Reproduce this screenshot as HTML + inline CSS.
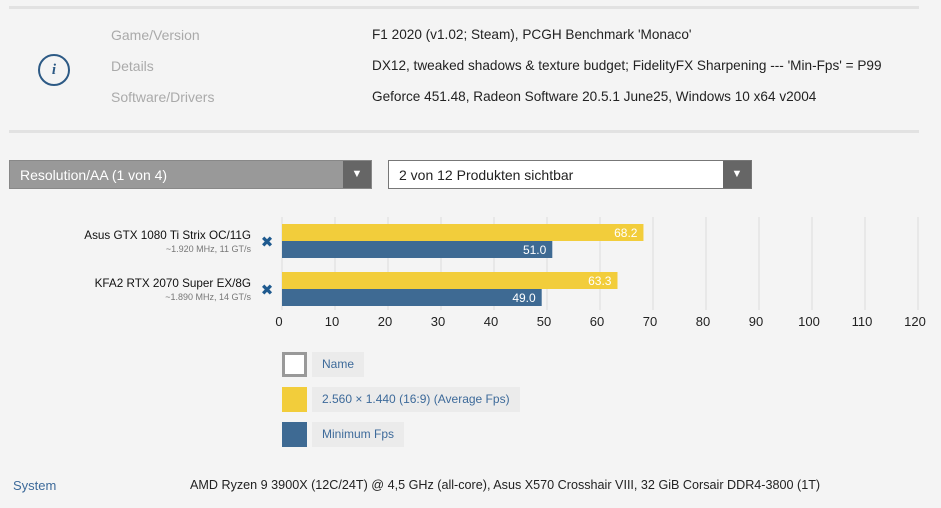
<!DOCTYPE html>
<html><head><meta charset="utf-8">
<style>
body{margin:0;width:941px;height:508px;background:#f4f4f4;font-family:"Liberation Sans",sans-serif;position:relative;overflow:hidden}
.a{position:absolute;white-space:nowrap}
.lbl{color:#aaa;font-size:14px}
.val{color:#222;font-size:13.6px}
</style></head><body>
<div class="a" style="left:9px;top:6px;width:910px;height:3px;background:#e2e2e2"></div>
<div class="a" style="left:38px;top:54px;width:28px;height:28px;border:2px solid #2d5a85;border-radius:50%;color:#2d5a85;font:italic bold 15px 'Liberation Serif',serif;text-align:center;line-height:28px">i</div>
<div class="a lbl" style="left:111px;top:27px">Game/Version</div>
<div class="a lbl" style="left:111px;top:58px">Details</div>
<div class="a lbl" style="left:111px;top:89px">Software/Drivers</div>
<div class="a val" style="left:372px;top:27px">F1 2020 (v1.02; Steam), PCGH Benchmark 'Monaco'</div>
<div class="a val" style="left:372px;top:58px">DX12, tweaked shadows &amp; texture budget; FidelityFX Sharpening --- 'Min-Fps' = P99</div>
<div class="a val" style="left:372px;top:89px">Geforce 451.48, Radeon Software 20.5.1 June25, Windows 10 x64 v2004</div>
<div class="a" style="left:9px;top:130px;width:910px;height:3px;background:#e2e2e2"></div>
<div class="a" style="left:9px;top:160px;width:363px;height:29px;background:#999;border:1px solid #888;box-sizing:border-box">
 <span class="a" style="left:10px;top:6px;color:#fff;font-size:14px">Resolution/AA (1 von 4)</span>
 <span class="a" style="right:0;top:0;width:28px;height:27px;background:#666;color:#fff;font-size:11px;text-align:center;line-height:27px">▼</span></div>
<div class="a" style="left:388px;top:160px;width:364px;height:29px;background:#fff;border:1px solid #777;box-sizing:border-box">
 <span class="a" style="left:10px;top:6px;color:#222;font-size:14px">2 von 12 Produkten sichtbar</span>
 <span class="a" style="right:0;top:0;width:28px;height:27px;background:#666;color:#fff;font-size:11px;text-align:center;line-height:27px">▼</span></div>
<svg class="a" style="left:0;top:0" width="941" height="508" id="chart"></svg>
<div class="a" style="left:282px;top:352px;width:25px;height:25px;border:3px solid #999;box-sizing:border-box;background:#fff"></div>
<div class="a" style="left:312px;top:352px;height:25px;padding:0 10px;background:#ebebeb;color:#3d6a9a;font-size:12px;line-height:25px">Name</div>
<div class="a" style="left:282px;top:387px;width:25px;height:25px;background:#f2cd3b"></div>
<div class="a" style="left:312px;top:387px;height:25px;padding:0 10px;background:#ebebeb;color:#3d6a9a;font-size:12px;line-height:25px">2.560 × 1.440 (16:9) (Average Fps)</div>
<div class="a" style="left:282px;top:422px;width:25px;height:25px;background:#3e6a93"></div>
<div class="a" style="left:312px;top:422px;height:25px;padding:0 10px;background:#ebebeb;color:#3d6a9a;font-size:12px;line-height:25px">Minimum Fps</div>
<div class="a" style="left:13px;top:478px;color:#3d6a9a;font-size:13px">System</div>
<div class="a" style="left:190px;top:478px;color:#222;font-size:12.6px">AMD Ryzen 9 3900X (12C/24T) @ 4,5 GHz (all-core), Asus X570 Crosshair VIII, 32 GiB Corsair DDR4-3800 (1T)</div>
<script>
const products=["Asus GTX 1080 Ti Strix OC/11G","KFA2 RTX 2070 Super EX/8G"];
const subs=["~1.920 MHz, 11 GT/s","~1.890 MHz, 14 GT/s"];
const avgFps=[68.2,63.3];
const minFps=[51.0,49.0];
const ticks=[0,10,20,30,40,50,60,70,80,90,100,110,120];
const svg=document.getElementById('chart');
const NS='http://www.w3.org/2000/svg';
const x=v=>282+v*5.3;
const rowY=i=>224+i*48;
function mk(t,a){const e=document.createElementNS(NS,t);for(const k in a)e.setAttribute(k,a[k]);svg.appendChild(e);return e;}
ticks.forEach(t=>{
 const l=mk('line',{x1:x(t),x2:x(t),y1:217,y2:310,stroke:'#dcdcdc','stroke-width':1});
 
 
 const tx=mk('text',{x:x(t)-3,y:326,'text-anchor':'middle','font-size':13,fill:'#222','font-family':'Liberation Sans, sans-serif'});
 tx.textContent=t;
 
 
});
products.forEach((p,i)=>{
 const y=rowY(i);
 const n=mk('text',{x:251,y:y+15,'text-anchor':'end','font-size':11.7,fill:'#111','font-family':'Liberation Sans, sans-serif'});
 n.textContent=p;
 
 
 const s=mk('text',{x:251,y:y+28,'text-anchor':'end','font-size':9,fill:'#777','font-family':'Liberation Sans, sans-serif'});
 s.textContent=subs[i];
 
 
 const r=mk('text',{x:267,y:y+23,'text-anchor':'middle','font-size':15,'font-weight':'bold',fill:'#1f5a8f','font-family':'DejaVu Sans, sans-serif'});
 r.textContent='✖';
 
 
 [[avgFps,'#f2cd3b',0],[minFps,'#3e6a93',17]].forEach(([arr,c,o])=>{
  const b=mk('rect',{x:x(0),y:y+o,width:x(arr[i])-x(0),height:17,fill:c});
  
  
  const v=mk('text',{x:x(arr[i])-6,y:y+o+13,'text-anchor':'end','font-size':12,fill:'#fff','font-family':'Liberation Sans, sans-serif'});
  v.textContent=arr[i].toFixed(1);
  
  
 });
});
</script>
</body></html>
